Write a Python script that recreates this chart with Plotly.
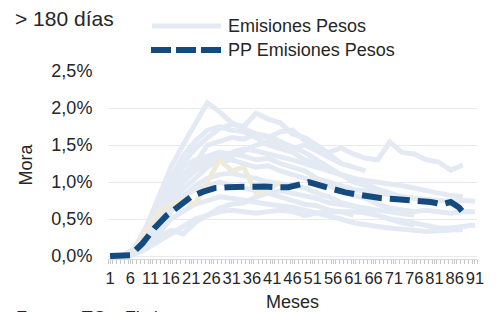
import plotly.graph_objects as go

# ---- data (values in %) ----
months_grid = [1, 4, 7, 10, 13, 16, 19, 22, 25, 28, 31, 34, 37, 40, 43, 46, 49, 52, 55, 58,
               61, 64, 67, 70, 73, 76, 79, 82, 85, 88, 91]

emisiones = [
    [0, 0, 0.10, 0.40, 0.80, 1.20, 1.50, 1.80, 2.07, 1.95, 1.80, 1.72, 1.65, 1.60, 1.68, 1.70, 1.55, 1.42, 1.33, 1.25],
    [0, 0, 0.05, 0.30, 0.60, 0.95, 1.25, 1.45, 1.60, 1.72, 1.78, 1.75, 1.93, 1.85, 1.80, 1.65, 1.60, 1.50, 1.38, 1.25, 1.20, 1.15],
    [0, 0, 0.05, 0.20, 0.45, 0.70, 0.90, 1.05, 1.20, 1.30, 1.35, 1.42, 1.50, 1.55, 1.50, 1.45, 1.50, 1.42, 1.40, 1.46, 1.38, 1.32, 1.30, 1.54, 1.40, 1.38, 1.30, 1.27, 1.16, 1.23],
    [0, 0, 0.10, 0.35, 0.70, 1.00, 1.20, 1.30, 1.35, 1.40, 1.38, 1.35, 1.30, 1.32, 1.25, 1.20, 1.15, 1.05, 1.00, 0.95, 0.90, 0.88, 0.85, 0.82, 0.80, 0.78, 0.76, 0.75, 0.74, 0.75, 0.74],
    [0, 0, 0.05, 0.25, 0.50, 0.80, 1.00, 1.15, 1.25, 1.28, 1.30, 1.25, 1.20, 1.22, 1.15, 1.10, 1.05, 1.00, 0.95, 0.88, 0.82, 0.78, 0.70, 0.65, 0.62, 0.60, 0.62, 0.60, 0.58, 0.60, 0.60],
    [0, 0, 0.05, 0.20, 0.40, 0.60, 0.80, 0.95, 1.05, 1.10, 1.12, 1.08, 1.05, 1.00, 0.98, 0.95, 0.92, 0.85, 0.80, 0.72, 0.68, 0.60, 0.55, 0.50, 0.48, 0.45, 0.42, 0.38, 0.38, 0.40, 0.42],
    [0, 0, 0.02, 0.15, 0.30, 0.50, 0.60, 0.70, 0.75, 0.80, 0.78, 0.75, 0.72, 0.70, 0.68, 0.66, 0.62, 0.58, 0.55, 0.50, 0.45, 0.42, 0.40, 0.38, 0.36, 0.35, 0.33, 0.34, 0.35, 0.36],
    [0, 0, 0.03, 0.10, 0.25, 0.35, 0.30, 0.45, 0.55, 0.60, 0.62, 0.60, 0.58, 0.60, 0.62, 0.60, 0.55, 0.58, 0.60, 0.60, 0.55],
    [0, 0, 0.08, 0.30, 0.60, 0.90, 1.10, 1.25, 1.50, 1.55, 1.60, 1.58, 1.65, 1.62, 1.55, 1.48, 1.40, 1.30, 1.20, 1.10, 1.00, 0.95, 0.90, 0.85],
    [0, 0, 0.05, 0.25, 0.50, 0.65, 0.80, 0.90, 0.95, 1.00, 0.95, 0.92, 0.88, 0.85, 0.80, 0.75, 0.70, 0.68, 0.62, 0.60, 0.60, 0.58, 0.55, 0.50, 0.45, 0.42],
    [0, 0, 0.10, 0.40, 0.75, 1.05, 1.35, 1.55, 1.70, 1.75, 1.70, 1.68, 1.60, 1.50, 1.45, 1.40, 1.30, 1.25, 1.15, 1.10, 1.05, 0.98, 0.90, 0.85, 0.80, 0.78],
    [0, 0, 0.02, 0.10, 0.20, 0.30, 0.40, 0.50, 0.55, 0.65, 0.70, 0.72, 0.80, 0.85, 0.88, 0.85, 0.82, 0.78, 0.72, 0.70, 0.68, 0.65, 0.62, 0.60, 0.58, 0.55],
    [0, 0, 0.05, 0.20, 0.45, 0.75, 1.00, 1.20, 1.30, 1.35, 1.40, 1.45, 1.42, 1.38, 1.35, 1.30, 1.25, 1.20, 1.15, 1.10, 1.05, 1.02, 1.00, 0.98, 0.95, 0.92, 0.88, 0.85, 0.82, 0.80],
]

beige_months = [7, 10, 13, 16, 19, 22, 25, 28, 31, 34, 37, 40, 43]
beige_values = [0.05, 0.35, 0.60, 0.70, 0.75, 0.70, 1.00, 1.30, 1.15, 1.20, 0.85, 0.90, 1.00]

pp_months = [1, 4, 6, 9, 12, 15, 18, 21, 24, 27, 30, 33, 36, 39, 42, 45, 48, 50, 53, 56, 59, 62,
             65, 68, 71, 74, 77, 80, 83, 85, 87, 89]
pp_values = [0, 0, 0.01, 0.17, 0.38, 0.55, 0.68, 0.80, 0.87, 0.92, 0.93, 0.94, 0.95, 0.94, 0.93, 0.93,
             0.97, 1.00, 0.95, 0.90, 0.86, 0.83, 0.80, 0.78, 0.77, 0.76, 0.75, 0.73, 0.70, 0.73, 0.66, 0.53]

x_ticks = list(range(1, 92, 5))
y_ticks = [0, 0.5, 1.0, 1.5, 2.0, 2.5]
y_labels = ["0,0%", "0,5%", "1,0%", "1,5%", "2,0%", "2,5%"]

LIGHT = "#E4EAF4"
BEIGE = "#EEEBDD"
DARK = "#154A7F"
TEXT = "#262626"
FONT = "Liberation Sans, Arial, sans-serif"

fig = go.Figure()
for s in emisiones:
    fig.add_trace(go.Scatter(x=months_grid[:len(s)], y=s, mode="lines",
                             line=dict(color=LIGHT, width=5), showlegend=False, hoverinfo="skip"))
fig.add_trace(go.Scatter(x=beige_months, y=beige_values, mode="lines",
                         line=dict(color=BEIGE, width=5), showlegend=False, hoverinfo="skip"))
fig.add_trace(go.Scatter(x=pp_months, y=pp_values, mode="lines",
                         line=dict(color=DARK, width=6, dash="20px,8px"), showlegend=False))

# The page body has an 8px margin: the figure starts at window pixel (8, 8).
OFF = 8
WIN_W, WIN_H = 499, 312
W, H = WIN_W - OFF, WIN_H - OFF
# plot area in window pixels: left 108, right 477, top 71, bottom 259
L = 108 - OFF
R = WIN_W - 477
T = 71 - OFF
B = WIN_H - 259
pw, ph = W - L - R, H - T - B


def px(xw):
    return (xw - OFF - L) / pw


def py(yw):
    return (H - B - (yw - OFF)) / ph


shapes = [
    dict(type="line", xref="paper", yref="paper", x0=px(152), x1=px(221), y0=py(26), y1=py(26),
         line=dict(color=LIGHT, width=5)),
    dict(type="line", xref="paper", yref="paper", x0=px(151), x1=px(221), y0=py(50), y1=py(50),
         line=dict(color=DARK, width=6, dash="20px,5px")),
]
annotations = [
    dict(text="Emisiones Pesos", xref="paper", yref="paper", x=px(226), y=py(26), xanchor="left",
         yanchor="middle", showarrow=False, font=dict(size=18, color=TEXT)),
    dict(text="PP Emisiones Pesos", xref="paper", yref="paper", x=px(226), y=py(50), xanchor="left",
         yanchor="middle", showarrow=False, font=dict(size=18, color=TEXT)),
    dict(text="> 180 días", xref="paper", yref="paper", x=px(13), y=py(18), xanchor="left",
         yanchor="middle", showarrow=False, font=dict(size=21, color=TEXT)),
    dict(text="Fuente: TC y Fitch", xref="paper", yref="paper", x=px(14), y=py(306), xanchor="left",
         yanchor="top", showarrow=False, font=dict(size=18, color=TEXT)),
]

fig.update_layout(
    width=W, height=H,
    margin=dict(l=L, r=R, t=T, b=B, autoexpand=False),
    paper_bgcolor="white", plot_bgcolor="white",
    font=dict(family=FONT, size=18, color=TEXT),
    showlegend=False,
    shapes=shapes,
    annotations=annotations,
    xaxis=dict(range=[0.5, 91.5], tickvals=x_ticks, tickangle=0, automargin=False,
               ticks="outside", ticklen=4, tickcolor="#C8C8C8",
               minor=dict(dtick=1, tick0=0.5, ticks="outside", ticklen=4, tickcolor="#C8C8C8"),
               showgrid=False, zeroline=False, showline=True, linecolor="#D8D8D8",
               tickfont=dict(size=16.5), title=dict(text="Meses", font=dict(size=18), standoff=9)),
    yaxis=dict(range=[-0.04, 2.5], tickvals=y_ticks, ticktext=y_labels, automargin=False,
               ticks="outside", ticklen=11, tickcolor="rgba(0,0,0,0)",
               showgrid=True, gridcolor="#E8EAF0", gridwidth=1, zeroline=False, showline=False,
               tickfont=dict(size=18), title=dict(text="Mora", font=dict(size=18), standoff=14)),
)

fig.write_html("out.html")
